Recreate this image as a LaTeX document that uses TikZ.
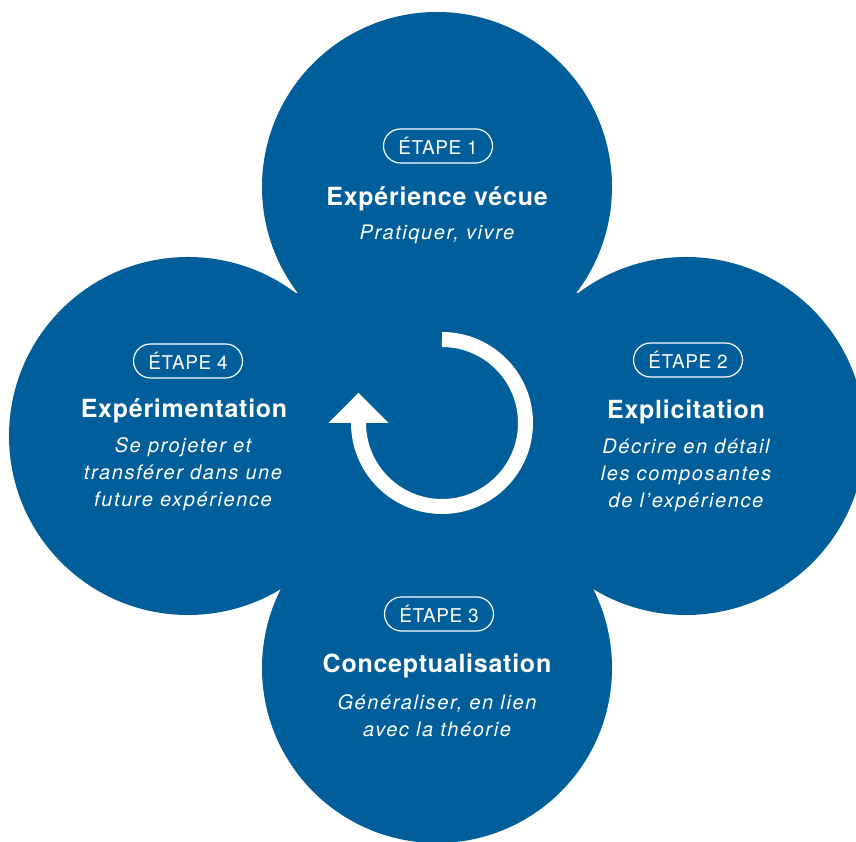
\documentclass[tikz,border=0pt]{standalone}
\usepackage{fontspec}
\setmainfont{TeX Gyre Heros}
\newfontfamily\titrefont[LetterSpace=3]{TeX Gyre Heros}
\newfontfamily\sousfont[LetterSpace=8]{TeX Gyre Heros}
\newfontfamily\etapefont[LetterSpace=3]{TeX Gyre Heros}
\usetikzlibrary{shapes.misc}
\definecolor{bleu}{RGB}{0,94,155}

\begin{document}
\begin{tikzpicture}[x=1pt,y=1pt,
    cercle/.style={circle, fill=bleu, inner sep=0pt},
    etape/.style={rounded rectangle, draw=white, line width=1.2pt, text=white, minimum width=109pt, minimum height=34pt, inner sep=0pt, font=\etapefont\fontsize{19}{19}\selectfont},
    titre/.style={text=white, inner sep=0pt, font=\titrefont\bfseries\fontsize{25}{25}\selectfont},
    sous/.style={text=white, inner sep=0pt, align=center, font=\sousfont\itshape\fontsize{20}{27}\selectfont}]
    \useasboundingbox (0,0) rectangle (856,842);
    \clip (0,0) rectangle (856,842);
    \node [cercle, minimum size=350pt] (C1) at (437,655) {};
    \node [cercle, minimum size=358pt] (C2) at (686,406) {};
    \node [cercle, minimum size=350pt] (C3) at (437,174) {};
    \node [cercle, minimum size=358pt] (C4) at (188,406) {};
    \fill[bleu] (295,273) -- (580,273) -- (580,549) -- (295,549) -- cycle;
    \coordinate (fin) at (358.5,419);
    \draw[white, line width=15pt] (442,502.5) arc[start angle=90, end angle=-180, radius=83.5];
    \fill[white] ([xshift=-30pt]fin) -- ([xshift=30pt]fin) -- ([yshift=30pt]fin) -- cycle;
    \node [etape] (E1) at (438,696) {ÉTAPE 1};
    \node [titre] (T1) at (437,643) {Expérience vécue};
    \node [sous] (S1) at (437,608) {Pratiquer, vivre};
    \node [etape] (E2) at (688,482) {ÉTAPE 2};
    \node [titre] (T2) at (686,430) {Explicitation};
    \node [sous] (S2) at (686,367) {Décrire en détail\\les composantes\\de l’expérience};
    \node [etape] (E3) at (439,228) {ÉTAPE 3};
    \node [titre] (T3) at (437,176) {Conceptualisation};
    \node [sous] (S3) at (437,126) {Généraliser, en lien\\avec la théorie};
    \node [etape] (E4) at (188,481) {ÉTAPE 4};
    \node [titre] (T4) at (184,431) {Expérimentation};
    \node [sous] (S4) at (183,368) {Se projeter et\\transférer dans une\\future expérience};
\end{tikzpicture}
\end{document}
